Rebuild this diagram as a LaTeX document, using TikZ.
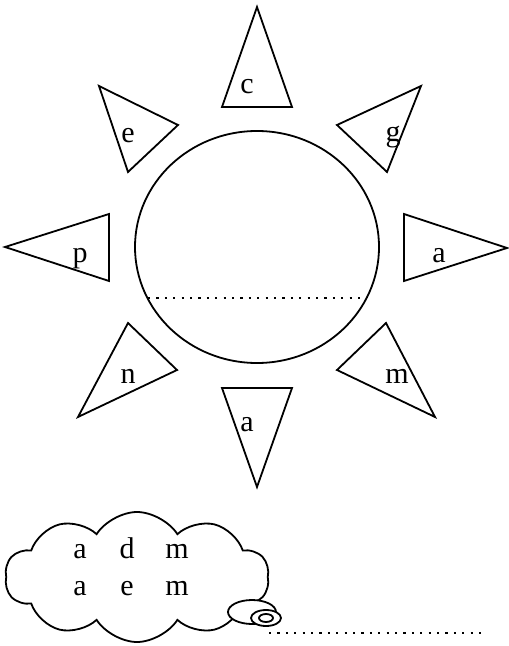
\documentclass[tikz,border=0pt]{standalone}
\usepackage{fontspec}
\setmainfont{Liberation Serif}
\usepackage{tikz}
\usetikzlibrary{shapes.geometric,shapes.symbols}

\begin{document}
\begin{tikzpicture}[x=0.5pt, y=-0.5pt, line width=0.9pt, font=\fontsize{15}{17}\selectfont]
\useasboundingbox (0,0) rectangle (508,646);

% Sun
\node[draw, ellipse, minimum width=122pt, minimum height=116pt, inner sep=0pt] (sun) at (257,247) {};
\coordinate (lineL) at (148,298);
\coordinate (lineR) at (367,298);
\draw[dash pattern=on 1.1pt off 3.1pt] (lineL) -- (lineR);

% Rays
\draw (257,7) -- (222,107) -- (292,107) -- cycle;
\draw (99,86) -- (178,125) -- (128,172) -- cycle;
\draw (421,86) -- (337,125) -- (387,172) -- cycle;
\draw (5,247) -- (109,214) -- (109,281) -- cycle;
\draw (507,248) -- (404,214) -- (404,281) -- cycle;
\draw (128,323) -- (177,370) -- (78,417) -- cycle;
\draw (386,323) -- (337,370) -- (435,417) -- cycle;
\draw (257,487) -- (222,388) -- (292,388) -- cycle;

% Letters
\node[anchor=base, inner sep=0pt] (lc) at (247,94) {c};
\node[anchor=base, inner sep=0pt] (le) at (128,143) {e};
\node[anchor=base, inner sep=0pt] (lg) at (393,142) {g};
\node[anchor=base, inner sep=0pt] (lp) at (80,263) {p};
\node[anchor=base, inner sep=0pt] (la) at (439,263) {a};
\node[anchor=base, inner sep=0pt] (ln) at (128,383) {n};
\node[anchor=base, inner sep=0pt] (lm) at (397,383) {m};
\node[anchor=base, inner sep=0pt] (lb) at (247,431) {a};

% Thought cloud
\node[draw, cloud, cloud puffs=10, cloud puff arc=115, aspect=2, minimum width=132pt, minimum height=65pt, inner sep=0pt] (cloud) at (137,577) {};
\node[anchor=base, inner sep=0pt] (a1) at (80,558) {a};
\node[anchor=base, inner sep=0pt] (d1) at (127,558) {d};
\node[anchor=base, inner sep=0pt] (m1) at (177,558) {m};
\node[anchor=base, inner sep=0pt] (a2) at (80,595) {a};
\node[anchor=base, inner sep=0pt] (e2) at (127,595) {e};
\node[anchor=base, inner sep=0pt] (m2) at (177,595) {m};
\node[draw, ellipse, fill=white, minimum width=24pt, minimum height=12pt, inner sep=0pt] (bub1) at (252,612) {};
\node[draw, ellipse, fill=white, minimum width=15pt, minimum height=8pt, inner sep=0pt] (bub2) at (266,618) {};
\node[draw, ellipse, minimum width=7pt, minimum height=4pt, inner sep=0pt] (bub3) at (266,618) {};

% Answer line
\coordinate (ansL) at (269,633);
\coordinate (ansR) at (485,633);
\draw[dash pattern=on 1.1pt off 3.1pt] (ansL) -- (ansR);
\end{tikzpicture}
\end{document}
